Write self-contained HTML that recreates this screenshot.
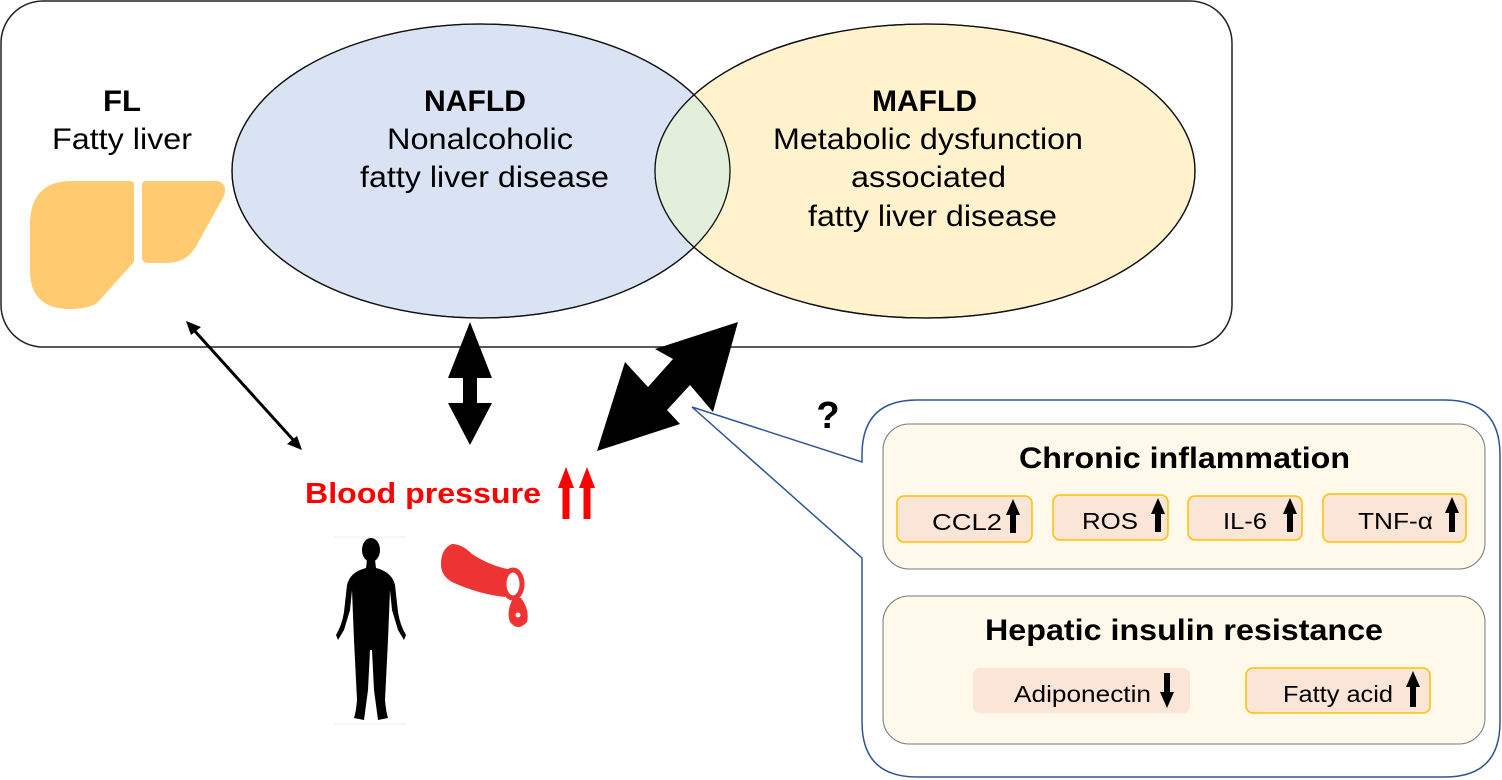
<!DOCTYPE html>
<html><head><meta charset="utf-8"><style>
html,body{margin:0;padding:0;background:#fff;}
svg{display:block;font-family:"Liberation Sans",Arial,sans-serif;}
</style></head><body>
<svg width="1502" height="780" viewBox="0 0 1502 780" xmlns="http://www.w3.org/2000/svg">
<rect x="1" y="1" width="1231" height="346" rx="42" fill="#fff" stroke="#222" stroke-width="1.5"/>
<ellipse cx="481" cy="171" rx="249" ry="147" fill="#dae3f3" stroke="#111" stroke-width="1.3"/>
<ellipse cx="925" cy="171" rx="270" ry="147" fill="#fff2cc" stroke="#111" stroke-width="1.3"/>
<clipPath id="c1"><ellipse cx="481" cy="171" rx="249" ry="147"/></clipPath>
<ellipse cx="925" cy="171" rx="270" ry="147" fill="#e2efda" clip-path="url(#c1)"/>
<ellipse cx="481" cy="171" rx="249" ry="147" fill="none" stroke="#111" stroke-width="1.3"/>
<ellipse cx="925" cy="171" rx="270" ry="147" fill="none" stroke="#111" stroke-width="1.3"/>

<g font-size="30" fill="#000">
<text x="103" y="111" font-weight="bold" textLength="38" lengthAdjust="spacingAndGlyphs">FL</text>
<text x="52" y="149" textLength="140" lengthAdjust="spacingAndGlyphs">Fatty liver</text>
<text x="424" y="111" font-weight="bold" textLength="102" lengthAdjust="spacingAndGlyphs">NAFLD</text>
<text x="387" y="149" textLength="186" lengthAdjust="spacingAndGlyphs">Nonalcoholic</text>
<text x="360" y="187" textLength="249" lengthAdjust="spacingAndGlyphs">fatty liver disease</text>
<text x="872" y="111" font-weight="bold" textLength="105" lengthAdjust="spacingAndGlyphs">MAFLD</text>
<text x="773" y="149" textLength="310" lengthAdjust="spacingAndGlyphs">Metabolic dysfunction</text>
<text x="851" y="187" textLength="155" lengthAdjust="spacingAndGlyphs">associated</text>
<text x="808" y="226" textLength="249" lengthAdjust="spacingAndGlyphs">fatty liver disease</text>
</g>

<!-- liver -->
<path d="M72,181 L130,181 Q134,181 134,186 L134,262 L97,303 Q88,309 70,309 Q30,309 30,270 L30,225 Q30,181 72,181 Z" fill="#ffca70"/>
<path d="M146,181 L218,181 Q228,185 224,196 L195,248 Q186,263 165,263 L148,263 Q142,263 142,257 L142,185 Q142,181 146,181 Z" fill="#ffca70"/>

<!-- thin arrow -->
<line x1="192" y1="328" x2="296" y2="443" stroke="#000" stroke-width="3"/>
<polygon points="186,321 201,327 191,335" fill="#000"/>
<polygon points="302,450 287,444 297,436" fill="#000"/>

<!-- vertical thick arrow -->
<polygon points="470,322 492,378 477,378 477,403 492,403 470,445 448,403 463,403 463,378 448,378" fill="#000"/>

<!-- diagonal big arrow -->
<polygon points="738,322 713,412 690,385 667,410 680,424 597,451 625,362 648,387 673,359 655,349" fill="#000"/>

<!-- blood pressure -->
<text x="305" y="503" font-size="29" font-weight="bold" fill="#ff0000" textLength="236" lengthAdjust="spacingAndGlyphs">Blood pressure</text>
<polygon points="566,467 574,488 569.5,488 569.5,519 562.5,519 562.5,488 558,488" fill="#ff0000"/>
<polygon points="587,467 595,488 590.5,488 590.5,519 583.5,519 583.5,488 579,488" fill="#ff0000"/>

<!-- person -->
<g fill="#000">
<ellipse cx="371" cy="550" rx="9" ry="12"/>
<path d="M367,560 L375,560 L376,568 Q392,572 395,585 L398,612 Q400,625 406,635 L404,640 L398,630 L392,610 L390,590 L388,640 L385,700 Q386,712 388,718 L378,720 L374,690 L372,650 L370,650 L368,690 L364,720 L354,718 Q356,712 357,700 L354,640 L352,590 L350,610 L344,630 L338,640 L336,635 Q342,625 344,612 L347,585 Q350,572 366,568 Z"/>
</g>
<line x1="334" y1="537" x2="406" y2="537" stroke="#eee"/>
<line x1="334" y1="724" x2="406" y2="724" stroke="#eee"/>
<!-- vessel -->
<path d="M452,544 Q442,548 441,562 Q440,575 452,582 Q478,594 505,597 L512,570 Q490,566 472,554 Q462,544 452,544 Z" fill="#e33"/>
<ellipse cx="513" cy="584" rx="9" ry="14" fill="#fff" stroke="#e33" stroke-width="5"/>
<path d="M513,598 Q506,612 510,622 Q518,632 527,622 Q530,610 521,598 Z" fill="#e33"/>
<circle cx="518" cy="615" r="2.5" fill="#fff"/>

<!-- question -->
<text x="828" y="428" font-size="38" font-weight="bold" text-anchor="middle">?</text>

<!-- callout -->
<path d="M917,400 L1445,400 Q1500,400 1500,455 L1500,722 Q1500,777 1445,777 L917,777 Q862,777 862,722 L862,558 L692,407 L862,462 L862,455 Q862,400 917,400 Z" fill="#fff" stroke="#2f5597" stroke-width="1.5"/>

<rect x="883" y="424" width="602" height="145" rx="26" fill="#fff9ec" stroke="#777" stroke-width="1"/>
<rect x="883" y="596" width="602" height="148" rx="26" fill="#fff9ec" stroke="#777" stroke-width="1"/>
<g font-size="30" font-weight="bold">
<text x="1019" y="468" textLength="331" lengthAdjust="spacingAndGlyphs">Chronic inflammation</text>
<text x="985" y="640" textLength="398" lengthAdjust="spacingAndGlyphs">Hepatic insulin resistance</text>
</g>
<g fill="#fbe5d6" stroke="#ffc000" stroke-width="1.5">
<rect x="897" y="496" width="135" height="46" rx="7"/>
<rect x="1053" y="495" width="115" height="45" rx="7"/>
<rect x="1188" y="496" width="114" height="44" rx="7"/>
<rect x="1323" y="494" width="143" height="48" rx="7"/>
<rect x="1246" y="668" width="184" height="45" rx="7"/>
</g>
<rect x="973" y="668" width="217" height="45" rx="7" fill="#fbe5d6"/>
<g font-size="23" fill="#000">
<text x="932" y="530" textLength="70" lengthAdjust="spacingAndGlyphs">CCL2</text>
<text x="1082" y="529" textLength="56" lengthAdjust="spacingAndGlyphs">ROS</text>
<text x="1223" y="529" textLength="44" lengthAdjust="spacingAndGlyphs">IL-6</text>
<text x="1358" y="529" textLength="75" lengthAdjust="spacingAndGlyphs">TNF-α</text>
<text x="1014" y="702" textLength="137" lengthAdjust="spacingAndGlyphs">Adiponectin</text>
<text x="1283" y="702" textLength="110" lengthAdjust="spacingAndGlyphs">Fatty acid</text>
</g>
<g fill="#000">
<polygon points="1013,499 1020,515 1016,515 1016,533 1010,533 1010,515 1006,515"/>
<polygon points="1158,498 1165,514 1161,514 1161,532 1155,532 1155,514 1151,514"/>
<polygon points="1290,498 1297,514 1293,514 1293,532 1287,532 1287,514 1283,514"/>
<polygon points="1452,497 1459,513 1455,513 1455,532 1449,532 1449,513 1445,513"/>
<polygon points="1167,708 1174,692 1170,692 1170,673 1164,673 1164,692 1160,692"/>
<polygon points="1413,671 1420,687 1416,687 1416,707 1410,707 1410,687 1406,687"/>
</g>
</svg>
</body></html>
